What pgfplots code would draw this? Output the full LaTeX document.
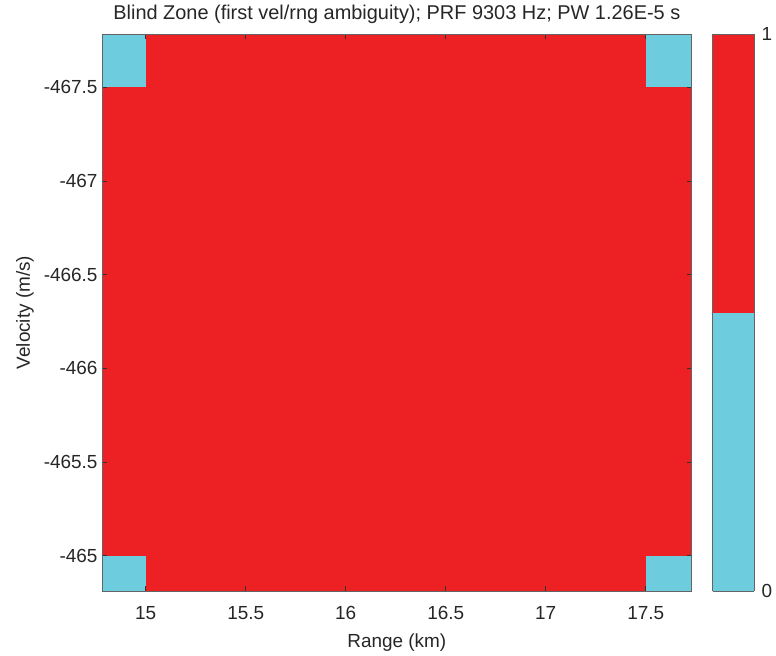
\documentclass[border=0pt]{standalone}
\usepackage{pgfplots}
\pgfplotsset{compat=1.18}
\usepackage{fontspec}
\setmainfont{Liberation Sans}
\definecolor{bzcyan}{RGB}{109,204,221}
\definecolor{bzred}{RGB}{237,32,36}
\definecolor{axgray}{RGB}{100,100,100}
\definecolor{tickgray}{RGB}{50,50,50}
\definecolor{txtgray}{RGB}{38,38,38}
\begin{document}
\begin{tikzpicture}
\begin{axis}[
  name=main, at={(0,0)}, anchor=south west,
  scale only axis, width=589.7bp, height=557bp,
  xmin=14.7815, xmax=17.73, ymin=-467.784, ymax=-464.812,
  y dir=reverse,
  axis on top,
  colormap={bz}{rgb255=(109,204,221) rgb255=(237,32,36)},
  colormap access=piecewise constant,
  point meta min=0, point meta max=1,
  xtick={15,15.5,16,16.5,17,17.5},
  xticklabels={15,15.5,16,16.5,17,17.5},
  ytick={-467.5,-467,-466.5,-466,-465.5,-465},
  yticklabels={-467.5,-467,-466.5,-466,-465.5,-465},
  tick align=inside,
  major tick length=5bp,
  tick style={tickgray, line width=0.7bp},
  axis line style={axgray, line width=0.6bp},
  ticklabel style={font=\fontsize{19}{22}\selectfont, text=txtgray},
  xticklabel style={anchor=base, yshift=-28bp},
  yticklabel style={anchor=east, xshift=-1bp},
  label style={font=\fontsize{19}{22}\selectfont, text=txtgray},
  xlabel style={at={(axis description cs:0.5,0)}, anchor=base, yshift=-56.5bp},
  ylabel style={at={([xshift=-72bp]axis description cs:0,0.5)}, anchor=base},
  title style={font=\fontsize{20}{23}\selectfont, text=txtgray, at={(axis description cs:0.5,1)}, anchor=base, yshift=9bp},
  title={Blind Zone (first vel/rng ambiguity); PRF 9303 Hz; PW 1.26E-5 s},
  xlabel={Range (km)},
  ylabel={Velocity (m/s)},
  colorbar,
  colorbar shift/.style={xshift=21bp},
  colorbar style={
    at={(parent axis.north east)}, anchor=north west,
    width=41.5bp,
    ytick={0,1}, yticklabels={0,1},
    yticklabel pos=right,
    major tick length=0pt,
    axis line style={axgray, line width=0.6bp},
    ticklabel style={font=\fontsize{19}{22}\selectfont, text=txtgray},
    yticklabel style={anchor=west, xshift=4bp},
  },
]
\addplot[patch, patch type=rectangle, shader=flat, point meta=explicit]
  table[meta=c]{
x y c
14.7815 -467.784 0
15 -467.784 0
15 -467.5 0
14.7815 -467.5 0
15 -467.784 1
17.5 -467.784 1
17.5 -467.5 1
15 -467.5 1
17.5 -467.784 0
17.73 -467.784 0
17.73 -467.5 0
17.5 -467.5 0
14.7815 -467.5 1
15 -467.5 1
15 -465 1
14.7815 -465 1
15 -467.5 1
17.5 -467.5 1
17.5 -465 1
15 -465 1
17.5 -467.5 1
17.73 -467.5 1
17.73 -465 1
17.5 -465 1
14.7815 -465 0
15 -465 0
15 -464.812 0
14.7815 -464.812 0
15 -465 1
17.5 -465 1
17.5 -464.812 1
15 -464.812 1
17.5 -465 0
17.73 -465 0
17.73 -464.812 0
17.5 -464.812 0
};
\end{axis}
\pgfresetboundingbox
\useasboundingbox (-102bp,-65bp) rectangle (674bp,591bp);
\end{tikzpicture}
\end{document}
